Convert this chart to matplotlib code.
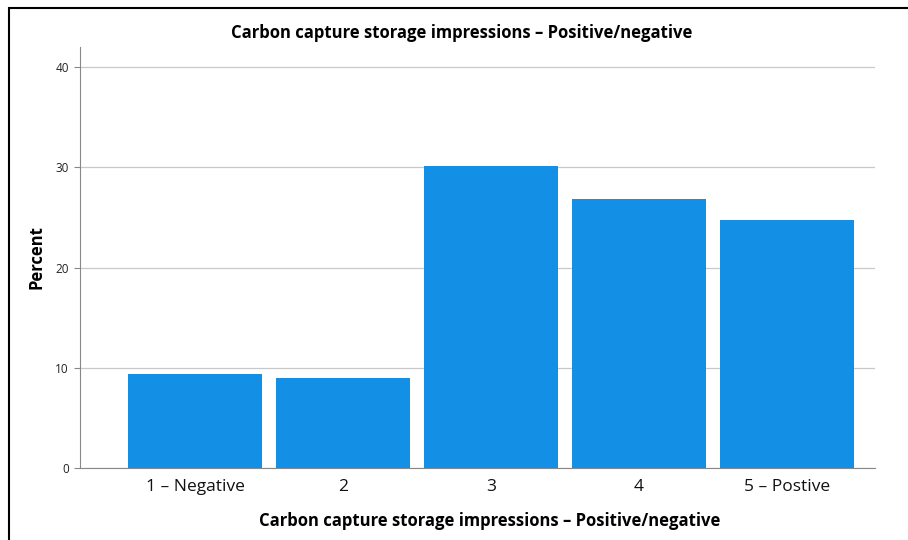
import matplotlib
matplotlib.use("Agg")
import matplotlib.pyplot as plt
from matplotlib.patches import Rectangle

categories = ["1 – Negative", "2", "3", "4", "5 – Postive"]
percent = [9.4, 9.0, 30.1, 26.8, 24.7]
yticks = [0, 10, 20, 30, 40]
title = "Carbon capture storage impressions – Positive/negative"

plt.rcParams['font.family'] = ['Open Sans', 'DejaVu Sans']

fig = plt.figure(figsize=(9.08, 5.4), dpi=100)
W, H = 908, 540
ax = fig.add_axes([80 / W, (540 - 468) / H, (875 - 80) / W, (468 - 47) / H])

x = list(range(len(categories)))
ax.bar(x, percent, width=0.905, color="#1390E6", zorder=3)
ax.set_xlim(-0.777, 4.595)
ax.set_ylim(0, 42)
ax.set_yticks(yticks)
ax.set_yticklabels([str(t) for t in yticks], fontsize=8.5, color="#222222")
ax.set_xticks(x)
ax.set_xticklabels(categories, fontsize=12.5, color="#111111")
ax.yaxis.grid(True, color="#c8c8c8", linewidth=0.9, zorder=0)
ax.tick_params(axis="y", length=4, color="#888888", pad=4)
ax.tick_params(axis="x", length=0, pad=8)
for s in ["top", "right"]:
    ax.spines[s].set_visible(False)
ax.spines["left"].set_color("#888888")
ax.spines["bottom"].set_color("#888888")
ax.set_ylabel("Percent", fontsize=12, fontweight="bold", labelpad=7)
ax.set_xlabel(title, fontsize=12, fontweight="bold", labelpad=12)
ax.xaxis.set_label_coords((490 - 80) / (875 - 80), -0.104)
fig.text(462 / W, 1 - 33 / H, title, ha="center", va="center",
         fontsize=12, fontweight="bold")

fig.patches.append(Rectangle((9 / W, -0.05), 1.2, 1 - 8 / H + 0.05,
                             transform=fig.transFigure, fill=False,
                             edgecolor="black", linewidth=1.5))

fig.savefig("out.png", dpi=100)
